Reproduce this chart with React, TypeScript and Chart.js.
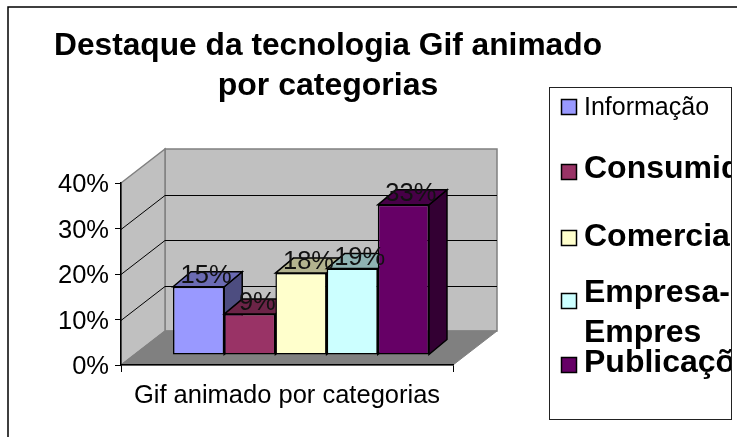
import React, { useEffect, useRef } from "react";
import { Chart, registerables } from "chart.js";

Chart.register(...registerables);

const CATEGORIES = ["Gif animado por categorias"];
const SERIES = ["Informação", "Consumidor", "Comercial", "Empresa-Empres", "Publicações"];
const VALUES = [15, 9, 18, 19, 33];
const FRONT_COLORS = ["#9999FF", "#993366", "#FFFFCC", "#CCFFFF", "#660066"];
const TOP_COLORS = ["#6B6BB3", "#6B2447", "#B3B38F", "#8FB3B3", "#470047"];
const SIDE_COLORS = ["#4D4D80", "#4D1A33", "#808066", "#668080", "#330033"];
const TITLE_LINES = ["Destaque da tecnologia Gif animado", "por categorias"];
const FONT = '"Liberation Sans", Arial, sans-serif';

const WALL = { dx: 44, dy: 34 };
const BAR_PLANE = { dx: 14, dy: 10 };
const BAR_DEPTH = { dx: 18, dy: 15 };

const LEGEND_ROWS = [
  { lines: ["Informação"], bold: false, baselines: [115], swatchY: 99 },
  { lines: ["Consumidor"], bold: true, baselines: [178], swatchY: 164 },
  { lines: ["Comercial"], bold: true, baselines: [246], swatchY: 230 },
  { lines: ["Empresa-", "Empres"], bold: true, baselines: [302, 342], swatchY: 293 },
  { lines: ["Publicações"], bold: true, baselines: [372], swatchY: 357 },
];

function poly(ctx: CanvasRenderingContext2D, pts: number[][], fill: string, stroke: string, lw: number) {
  ctx.beginPath();
  pts.forEach((p, i) => (i ? ctx.lineTo(p[0], p[1]) : ctx.moveTo(p[0], p[1])));
  ctx.closePath();
  ctx.fillStyle = fill;
  ctx.fill();
  ctx.strokeStyle = stroke;
  ctx.lineWidth = lw;
  ctx.lineJoin = "miter";
  ctx.stroke();
}

const scene3d = {
  id: "scene3d",
  afterLayout(chart: any) {
    if (chart.titleBlock) {
      chart.titleBlock.left = 54;
      chart.titleBlock.right = 602;
    }
  },
  beforeDraw(chart: any) {
    const { ctx, chartArea: a, scales } = chart;
    ctx.save();
    ctx.fillStyle = "#fff";
    ctx.fillRect(0, 0, chart.width, chart.height);
    // outer frame
    ctx.strokeStyle = "#000";
    ctx.lineWidth = 1.5;
    ctx.beginPath();
    ctx.moveTo(8, 437);
    ctx.lineTo(8, 7);
    ctx.lineTo(737, 7);
    ctx.stroke();
    // walls
    const { dx, dy } = WALL;
    poly(ctx, [[a.left + dx, a.top - dy], [a.right + dx, a.top - dy], [a.right + dx, a.bottom - dy], [a.left + dx, a.bottom - dy]], "#C0C0C0", "#808080", 1.5);
    poly(ctx, [[a.left, a.top], [a.left + dx, a.top - dy], [a.left + dx, a.bottom - dy], [a.left, a.bottom]], "#C0C0C0", "#808080", 1.5);
    poly(ctx, [[a.left, a.bottom], [a.left + dx, a.bottom - dy], [a.right + dx, a.bottom - dy], [a.right, a.bottom]], "#808080", "#808080", 1);
    // gridlines wrapping the walls
    ctx.strokeStyle = "#000";
    ctx.lineWidth = 1;
    scales.y.ticks.forEach((t: any) => {
      if (t.value === 0 || t.value === scales.y.max) return;
      const y = Math.round(scales.y.getPixelForValue(t.value)) + 0.5;
      ctx.beginPath();
      ctx.moveTo(a.left, y);
      ctx.lineTo(a.left + dx, y - dy);
      ctx.lineTo(a.right + dx, y - dy);
      ctx.stroke();
    });
    // legend box
    ctx.fillStyle = "#fff";
    ctx.strokeStyle = "#222";
    ctx.lineWidth = 1;
    ctx.fillRect(549.5, 87.5, 182, 332);
    ctx.strokeRect(549.5, 87.5, 182, 332);
    ctx.save();
    ctx.beginPath();
    ctx.rect(549.5, 87.5, 181.5, 332);
    ctx.clip();
    ctx.textBaseline = "alphabetic";
    ctx.textAlign = "left";
    LEGEND_ROWS.forEach((row, i) => {
      ctx.fillStyle = FRONT_COLORS[i];
      ctx.strokeStyle = "#000";
      ctx.lineWidth = 1.5;
      ctx.fillRect(561.5, row.swatchY + 0.5, 15, 15);
      ctx.strokeRect(561.5, row.swatchY + 0.5, 15, 15);
      ctx.fillStyle = "#000";
      ctx.font = `${row.bold ? "bold 32px" : "25px"} ${FONT}`;
      row.lines.forEach((line, j) => ctx.fillText(line, 584, row.baselines[j]));
    });
    ctx.restore();
    ctx.restore();
  },
  beforeDatasetsDraw(chart: any) {
    const ctx = chart.ctx;
    const { dx, dy } = BAR_DEPTH;
    ctx.save();
    ctx.translate(BAR_PLANE.dx, -BAR_PLANE.dy);
    // left to right, so each nearer box overpaints its neighbour's side face
    SERIES.forEach((_, i) => {
      const el = chart.getDatasetMeta(i).data[0];
      const l = el.x - el.width / 2;
      const r = el.x + el.width / 2;
      poly(ctx, [[r, el.y], [r + dx, el.y - dy], [r + dx, el.base - dy], [r, el.base]], SIDE_COLORS[i], "#000", 1.5);
      poly(ctx, [[l, el.y], [l + dx, el.y - dy], [r + dx, el.y - dy], [r, el.y]], TOP_COLORS[i], "#000", 1.5);
      el.draw(ctx);
    });
    ctx.font = `25.5px ${FONT}`;
    ctx.fillStyle = "#111";
    ctx.textAlign = "center";
    ctx.textBaseline = "alphabetic";
    VALUES.forEach((v, i) => {
      const el = chart.getDatasetMeta(i).data[0];
      ctx.fillText(`${v}%`, el.x + 7.5, el.y - 4);
    });
    ctx.restore();
    return false;
  },
};

export default function App() {
  const ref = useRef<HTMLCanvasElement>(null);
  useEffect(() => {
    const chart = new Chart(ref.current as HTMLCanvasElement, {
      type: "bar",
      plugins: [scene3d],
      data: {
        labels: CATEGORIES,
        datasets: SERIES.map((label, i) => ({
          label,
          data: [VALUES[i]],
          backgroundColor: FRONT_COLORS[i],
          borderColor: "#000",
          borderWidth: 1.5,
          borderSkipped: false,
          categoryPercentage: 0.771,
          barPercentage: 1,
        })),
      },
      options: {
        responsive: false,
        animation: false,
        devicePixelRatio: 1,
        layout: { padding: { left: 0, top: 26, right: 284, bottom: 12 } },
        plugins: {
          legend: { display: false },
          tooltip: { enabled: false },
          title: {
            display: true,
            text: TITLE_LINES,
            color: "#000",
            font: { family: FONT, size: 32, weight: "bold", lineHeight: 1.25 },
            padding: { top: 0, bottom: 77 },
          },
        },
        scales: {
          x: {
            grid: { drawOnChartArea: false, tickLength: 7, color: "#000" },
            border: { color: "#000", width: 1.5 },
            ticks: { color: "#000", font: { family: FONT, size: 25.5 }, padding: 9, maxRotation: 0 },
            afterFit: (s: any) => { s.height = 60; },
          },
          y: {
            min: 0,
            max: 40,
            ticks: { stepSize: 10, color: "#000", font: { family: FONT, size: 25.5 }, padding: 6, labelOffset: 2, callback: (v: any) => `${v}%` },
            grid: { drawOnChartArea: false, tickLength: 6, color: "#000" },
            border: { color: "#000", width: 1.5 },
            afterFit: (s: any) => { s.width = 121; },
          },
        },
      },
    } as any);
    return () => chart.destroy();
  }, []);
  return (
    <div style={{ position: "absolute", left: 0, top: 0, width: 737, height: 437 }}>
      <canvas ref={ref} width={737} height={437} style={{ display: "block" }} />
    </div>
  );
}
